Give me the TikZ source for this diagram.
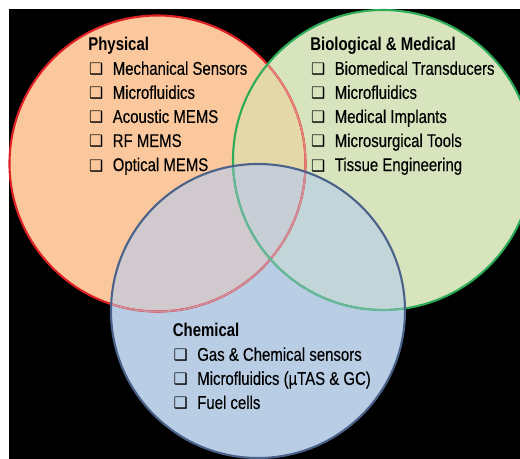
\documentclass[tikz,border=0pt]{standalone}
\usepackage{fontspec}
\setmainfont{Liberation Sans}[FakeStretch=0.81,UprightFeatures={FakeBold=0.25}]
\newfontfamily\boxfont{DejaVu Sans}
\usetikzlibrary{positioning}

\definecolor{physfill}{RGB}{250,200,156}
\definecolor{biofill}{RGB}{215,228,189}
\definecolor{chemfill}{RGB}{185,205,229}
\definecolor{pbfill}{RGB}{229,216,168}
\definecolor{pcfill}{RGB}{208,202,206}
\definecolor{bcfill}{RGB}{194,213,216}
\definecolor{allfill}{RGB}{199,206,214}
\definecolor{physline}{RGB}{222,32,36}
\definecolor{bioline}{RGB}{44,172,86}
\definecolor{chemline}{RGB}{74,98,138}
\definecolor{physfadeb}{RGB}{228,132,122}
\definecolor{physfadec}{RGB}{206,142,156}
\definecolor{biofadec}{RGB}{108,184,158}

% shadowed box bullet
\newcommand{\bx}{\makebox[13.9pt][l]{\hspace{0.4pt}{\boxfont\fontsize{9}{9}\selectfont ❑}}}

\begin{document}
\begin{tikzpicture}[
			x=0.02cm,y=0.02cm,
			ring/.style={line width=1.2pt},
			fadering/.style={line width=1.0pt},
			every node/.style={
				inner sep=0pt,
				anchor=north west,
				align=left,
				font=\fontsize{10.5}{13.7}\selectfont
			}
			]
			
			%%%%%%%%%%%%%%%%%%%%%%%%%%%%%%%%%%%%%%%%%%%%%%%%%%%%%%
			% Background
			%%%%%%%%%%%%%%%%%%%%%%%%%%%%%%%%%%%%%%%%%%%%%%%%%%%%%%
			
			\useasboundingbox (0,0) rectangle (520,459);
			\fill[white] (0,0) rectangle (520,459);
			\fill[black] (9,0) rectangle (520,450);
			
			\coordinate (phys) at (157.5,295.5);
			\coordinate (bio) at (383,299);
			\coordinate (chem) at (258,148);
			
			%%%%%%%%%%%%%%%%%%%%%%%%%%%%%%%%%%%%%%%%%%%%%%%%%%%%%%
			% Circles and overlaps
			%%%%%%%%%%%%%%%%%%%%%%%%%%%%%%%%%%%%%%%%%%%%%%%%%%%%%%
			
			\fill[physfill] (phys) circle (148);
			\fill[biofill] (bio) circle (150);
			\fill[chemfill] (chem) circle (147);
			
			\begin{scope}
				\clip (bio) circle (150);
				\fill[bcfill] (chem) circle (147);
			\end{scope}
			
			\begin{scope}
				\clip (phys) circle (148);
				\fill[pbfill] (bio) circle (150);
				\fill[pcfill] (chem) circle (147);
				\clip (bio) circle (150);
				\fill[allfill] (chem) circle (147);
			\end{scope}
			
			%%%%%%%%%%%%%%%%%%%%%%%%%%%%%%%%%%%%%%%%%%%%%%%%%%%%%%
			% Outlines
			%%%%%%%%%%%%%%%%%%%%%%%%%%%%%%%%%%%%%%%%%%%%%%%%%%%%%%
			
			\draw[ring,physline] (phys) circle (148);
			\begin{scope}
				\clip (bio) circle (150);
				\draw[fadering,physfadeb] (phys) circle (148);
			\end{scope}
			\begin{scope}
				\clip (chem) circle (147);
				\draw[fadering,physfadec] (phys) circle (148);
			\end{scope}
			
			\draw[ring,bioline] (bio) circle (150);
			\begin{scope}
				\clip (chem) circle (147);
				\draw[fadering,biofadec] (bio) circle (150);
			\end{scope}
			
			\draw[ring,chemline] (chem) circle (147);
			
			%%%%%%%%%%%%%%%%%%%%%%%%%%%%%%%%%%%%%%%%%%%%%%%%%%%%%%
			% Labels
			%%%%%%%%%%%%%%%%%%%%%%%%%%%%%%%%%%%%%%%%%%%%%%%%%%%%%%
			
			\node (physical) at (88,422)
			{\textbf{Physical}\\
				\bx Mechanical Sensors\\
				\bx Microfluidics\\
				\bx Acoustic MEMS\\
				\bx RF MEMS\\
				\bx Optical MEMS};
			
			\node (biomedical) at (310,422)
			{\textbf{Biological \& Medical}\\
				\bx Biomedical Transducers\\
				\bx Microfluidics\\
				\bx Medical Implants\\
				\bx Microsurgical Tools\\
				\bx Tissue Engineering};
			
			\node (chemical) at (172.5,136)
			{\textbf{Chemical}\\
				\bx Gas \& Chemical sensors\\
				\bx Microfluidics (µTAS \& GC)\\
				\bx Fuel cells};
			
			%%%%%%%%%%%%%%%%%%%%%%%%%%%%%%%%%%%%%%%%%%%%%%%%%%%%%%
			
		\end{tikzpicture}
\end{document}
